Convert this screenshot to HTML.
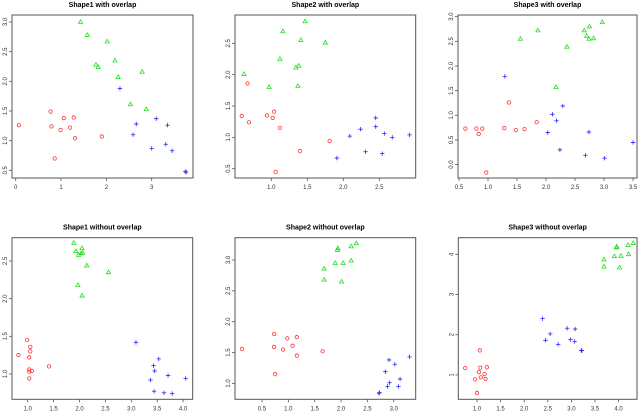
<!DOCTYPE html>
<html><head><meta charset="utf-8"><style>
html,body{margin:0;padding:0;background:#fff;}
svg{display:block;font-family:"Liberation Sans",sans-serif;}
</style></head><body>
<svg id="chart" width="640" height="411" viewBox="0 0 640 411" xmlns="http://www.w3.org/2000/svg"></svg>
<script>
// Panel data: [x, y] pairs
const p1Red=[[0.07,1.26],[0.77,1.49],[0.79,1.24],[0.86,0.70],[0.99,1.18],[1.06,1.38],[1.20,1.22],[1.28,1.39],[1.31,1.04],[1.90,1.07]];
const p1Green=[[1.43,3.0],[1.58,2.78],[2.02,2.67],[1.77,2.28],[1.82,2.24],[2.19,2.35],[2.26,2.07],[2.79,2.16],[2.53,1.61],[2.88,1.53]];
const p1Blue=[[2.30,1.88],[2.66,1.28],[2.59,1.10],[3.10,1.37],[3.35,1.26],[3.0,0.87],[3.31,0.94],[3.45,0.83],[3.74,0.48],[3.76,0.47]];
const p2Red=[[0.67,1.86],[0.59,1.34],[0.69,1.24],[0.94,1.35],[1.02,1.31],[1.04,1.41],[1.12,1.15],[1.40,0.78],[1.06,0.45],[1.81,0.94]];
const p2Green=[[0.62,2.01],[0.97,1.80],[1.16,2.69],[1.12,2.25],[1.41,2.55],[1.47,2.85],[1.34,2.11],[1.38,2.14],[1.37,1.82],[1.75,2.51]];
const p2Blue=[[1.91,0.67],[2.09,1.02],[2.24,1.13],[2.31,0.77],[2.45,1.17],[2.45,1.31],[2.57,1.06],[2.54,0.74],[2.68,1.00],[2.92,1.04]];
const p3Red=[[0.61,0.73],[0.80,0.73],[0.84,0.62],[0.90,0.73],[0.97,-0.16],[1.28,0.74],[1.36,1.26],[1.48,0.70],[1.63,0.72],[1.84,0.86]];
const p3Green=[[1.56,2.55],[1.86,2.72],[2.17,1.57],[2.36,2.39],[2.66,2.72],[2.75,2.80],[2.70,2.61],[2.74,2.55],[2.82,2.56],[2.97,2.89]];
const p3Blue=[[1.29,1.79],[2.11,1.02],[2.29,1.19],[2.18,0.89],[2.03,0.65],[2.24,0.30],[2.74,0.66],[2.68,0.19],[3.01,0.13],[3.50,0.45]];
const p4Red=[[0.82,1.25],[0.99,1.45],[1.05,1.36],[1.05,1.30],[1.03,1.22],[1.03,1.06],[1.03,1.03],[1.08,1.04],[1.03,0.94],[1.41,1.10]];
const p4Green=[[1.89,2.74],[1.93,2.63],[1.98,2.58],[2.05,2.67],[2.06,2.61],[2.03,2.60],[2.14,2.44],[2.56,2.35],[1.97,2.18],[2.05,2.04]];
const p4Blue=[[3.09,1.42],[3.53,1.20],[3.43,1.11],[3.45,1.04],[3.37,0.92],[3.71,0.98],[4.05,0.94],[3.44,0.77],[3.63,0.75],[3.79,0.74]];
const p5Red=[[0.12,1.56],[0.73,1.80],[0.73,1.59],[0.75,1.15],[0.90,1.55],[0.98,1.73],[1.08,1.61],[1.16,1.75],[1.16,1.45],[1.65,1.52]];
const p5Green=[[1.68,2.86],[1.68,2.68],[1.89,2.95],[1.93,3.16],[1.94,3.19],[2.04,2.95],[2.01,2.65],[2.19,2.99],[2.19,3.22],[2.29,3.27]];
const p5Blue=[[2.72,0.84],[2.88,0.95],[2.92,1.01],[2.84,1.19],[2.91,1.38],[3.02,1.31],[3.09,0.95],[3.12,1.07],[3.30,1.43],[2.73,0.85]];
const p6Red=[[0.75,1.17],[1.0,0.55],[0.96,0.89],[1.04,1.07],[1.07,1.18],[1.08,0.94],[1.16,1.02],[1.18,0.90],[1.21,1.19],[1.06,1.61]];
const p6Green=[[3.69,3.87],[3.69,3.69],[3.91,3.95],[3.95,4.17],[3.96,4.19],[4.05,3.96],[4.02,3.67],[4.20,4.23],[4.21,4.00],[4.31,4.28]];
const p6Blue=[[2.39,2.40],[2.45,1.86],[2.55,2.02],[2.72,1.76],[2.91,2.16],[2.98,1.88],[3.08,2.14],[3.07,1.83],[3.21,1.61],[3.22,1.60]];
// Tick labels
const p1XTicks=["0","1","2","3"], p1YTicks=["0.5","1.0","1.5","2.0","2.5","3.0"];
const p2XTicks=["1.0","1.5","2.0","2.5"], p2YTicks=["0.5","1.0","1.5","2.0","2.5"];
const p3XTicks=["0.5","1.0","1.5","2.0","2.5","3.0","3.5"], p3YTicks=["0.0","0.5","1.0","1.5","2.0","2.5","3.0"];
const p4XTicks=["1.0","1.5","2.0","2.5","3.0","3.5","4.0"], p4YTicks=["1.0","1.5","2.0","2.5"];
const p5XTicks=["0.5","1.0","1.5","2.0","2.5","3.0"], p5YTicks=["1.0","1.5","2.0","2.5","3.0"];
const p6XTicks=["1.0","1.5","2.0","2.5","3.0","3.5","4.0"], p6YTicks=["1","2","3","4"];
const titles=["Shape1 with overlap","Shape2 with overlap","Shape3 with overlap","Shape1 without overlap","Shape2 without overlap","Shape3 without overlap"];

const panels=[
 {title:titles[0],box:[12,15,193,178],xv:0,xp:15.7,xs:45.33,yv:3,yp:22,ys:59.33,xt:p1XTicks,yt:p1YTicks,r:p1Red,g:p1Green,b:p1Blue},
 {title:titles[1],box:[235,15,415.7,178],xv:1,xp:271.3,xs:72,yv:2.5,yp:43.3,ys:62.7,xt:p2XTicks,yt:p2YTicks,r:p2Red,g:p2Green,b:p2Blue},
 {title:titles[2],box:[458,15,637,178],xv:0.5,xp:459,xs:58,yv:3,yp:16.7,ys:49.3,xt:p3XTicks,yt:p3YTicks,r:p3Red,g:p3Green,b:p3Blue},
 {title:titles[3],box:[12,237.7,192.7,399.3],xv:1,xp:27.7,xs:51.8,yv:2.5,yp:261,ys:75.3,xt:p4XTicks,yt:p4YTicks,r:p4Red,g:p4Green,b:p4Blue},
 {title:titles[4],box:[235,237.7,415.7,399.3],xv:0.5,xp:262,xs:52.7,yv:3,yp:260,ys:61.7,xt:p5XTicks,yt:p5YTicks,r:p5Red,g:p5Green,b:p5Blue},
 {title:titles[5],box:[458.3,237.7,637,399.3],xv:1,xp:477,xs:47.2,yv:4,yp:254.3,ys:40.2,xt:p6XTicks,yt:p6YTicks,r:p6Red,g:p6Green,b:p6Blue}
];
const NS="http://www.w3.org/2000/svg";
const svg=document.getElementById('chart');
function mk(tag,attrs,parent){const e=document.createElementNS(NS,tag);for(const k in attrs)e.setAttribute(k,attrs[k]);(parent||svg).appendChild(e);return e;}
panels.forEach((p,i)=>{
 const g=mk('g',{});
 
 
 const X=v=>p.xp+(v-p.xv)*p.xs, Y=v=>p.yp-(v-p.yv)*p.ys;
 const [l,t,r,b]=p.box;
 const cx=(l+r)/2;
 const ti=mk('text',{x:cx,y:t-8,'text-anchor':'middle','font-size':'7','font-weight':'bold',fill:'#000'},g);
 ti.textContent=p.title;
 
 
 const bx=mk('rect',{x:l,y:t,width:r-l,height:b-t,fill:'none',stroke:'#555','stroke-width':'1'},g);
 
 
 p.xt.forEach(s=>{const v=parseFloat(s),x=X(v);
  mk('line',{x1:x,x2:x,y1:b,y2:b+3,stroke:'#555','stroke-width':'0.8'},g);
  const tx=mk('text',{x:x,y:b+11,'text-anchor':'middle','font-size':'6',fill:'#333'},g);
  tx.textContent=s;
  
  
 });
 p.yt.forEach(s=>{const v=parseFloat(s),y=Y(v);
  mk('line',{x1:l-3,x2:l,y1:y,y2:y,stroke:'#555','stroke-width':'0.8'},g);
  const tx=mk('text',{x:0,y:0,'text-anchor':'middle','font-size':'6',fill:'#333',transform:`translate(${l-5},${y}) rotate(-90)`},g);
  tx.textContent=s;
  
  
 });
 p.r.forEach(d=>{
  const c=mk('circle',{cx:X(d[0]),cy:Y(d[1]),r:1.7,fill:'none',stroke:'#ff3030','stroke-width':'0.8'},g);
  
  
 });
 p.g.forEach(d=>{const x=X(d[0]),y=Y(d[1]);
  const c=mk('polygon',{points:`${x},${y-2.2} ${x-2.1},${y+1.4} ${x+2.1},${y+1.4}`,fill:'none',stroke:'#22e022','stroke-width':'0.8'},g);
  
  
 });
 p.b.forEach(d=>{const x=X(d[0]),y=Y(d[1]);
  const c=mk('path',{d:`M${x-2.2},${y}H${x+2.2}M${x},${y-2.2}V${y+2.2}`,stroke:'#2a2aff','stroke-width':'0.8',fill:'none'},g);
  
  
 });
});
</script>
</body></html>
